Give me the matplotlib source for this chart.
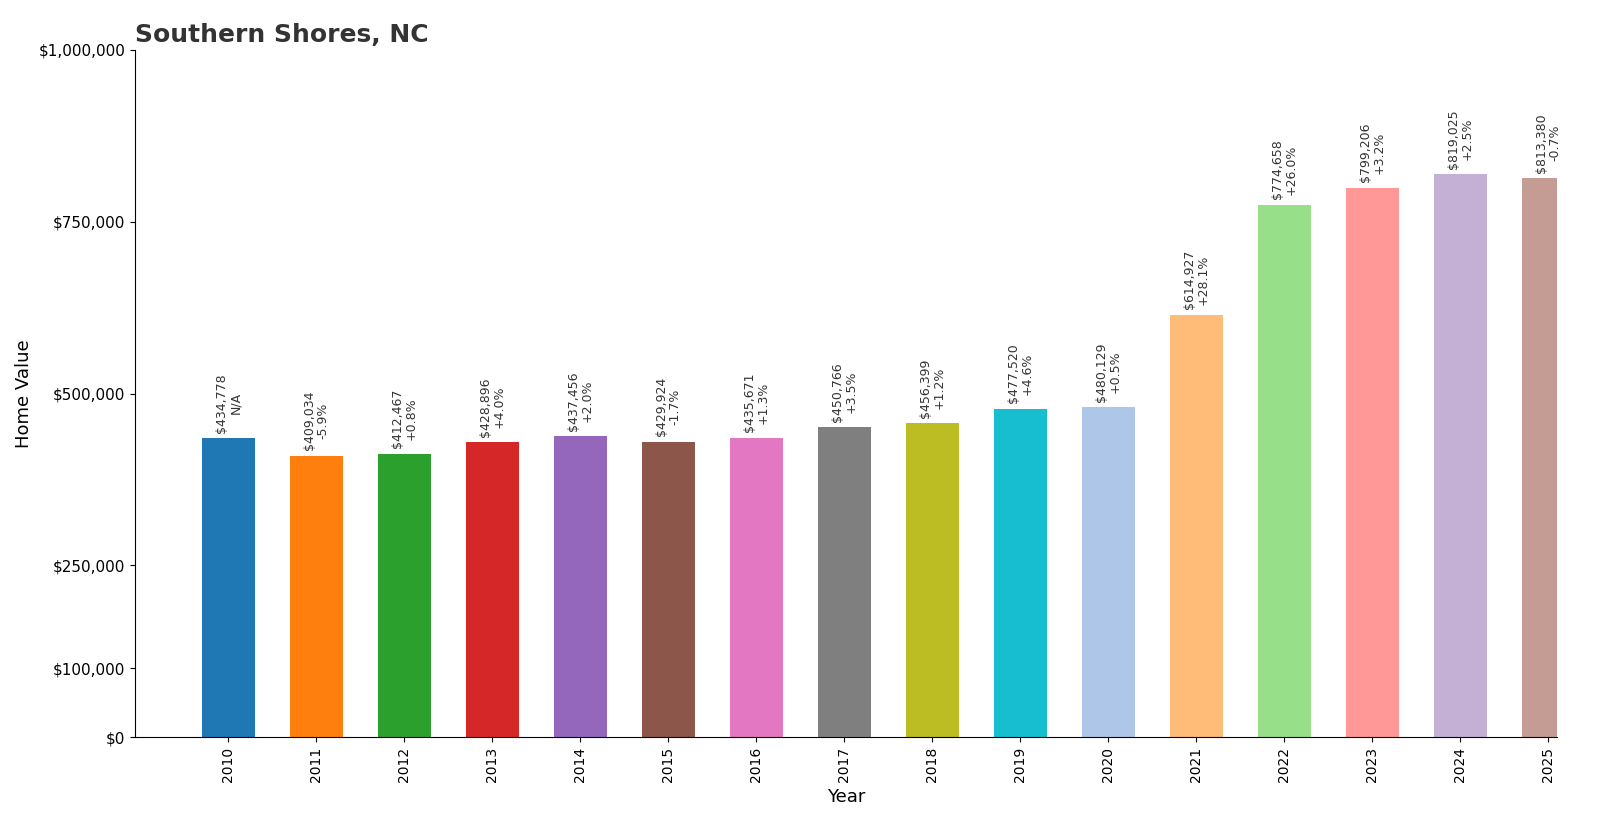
import matplotlib
matplotlib.use("Agg")
import matplotlib.pyplot as plt

years = [str(y) for y in range(2010, 2026)]
values = [434778, 409034, 412467, 428896, 437456, 429924, 435671, 450766,
          456399, 477520, 480129, 614927, 774658, 799206, 819025, 813380]
changes = ["N/A", "-5.9%", "+0.8%", "+4.0%", "+2.0%", "-1.7%", "+1.3%", "+3.5%",
           "+1.2%", "+4.6%", "+0.5%", "+28.1%", "+26.0%", "+3.2%", "+2.5%", "-0.7%"]
yticks = [0, 100000, 250000, 500000, 750000, 1000000]

colors = plt.cm.tab20.colors[0::2] + plt.cm.tab20.colors[1::2]

fig = plt.figure(figsize=(16, 8.4), dpi=100)
ax = fig.add_axes([135/1600, 1-737/840, (1557-135)/1600, (737-50)/840])
x = list(range(len(years)))
ax.bar(x, values, width=0.6, color=colors[:len(years)])
for i, (v, c) in enumerate(zip(values, changes)):
    ax.text(i, v + 8000, f"${v:,}\n{c}", rotation=90, ha="center", va="bottom",
            fontsize=9, color="#333333", linespacing=1.1)
ax.set_xticks(x)
ax.set_xticklabels(years, rotation=90, fontsize=10)
ax.set_yticks(yticks)
ax.set_yticklabels([f"${t:,}" for t in yticks], fontsize=11)
ax.set_ylim(0, 1000000)
ax.set_xlim(-1.06, 15.1)
ax.spines["top"].set_visible(False)
ax.spines["right"].set_visible(False)
ax.set_xlabel("Year", fontsize=13)
ax.set_ylabel("Home Value", fontsize=13)
ax.set_title("Southern Shores, NC", loc="left", fontsize=18, fontweight="bold", color="#333333")
fig.savefig("out.png", dpi=100)
